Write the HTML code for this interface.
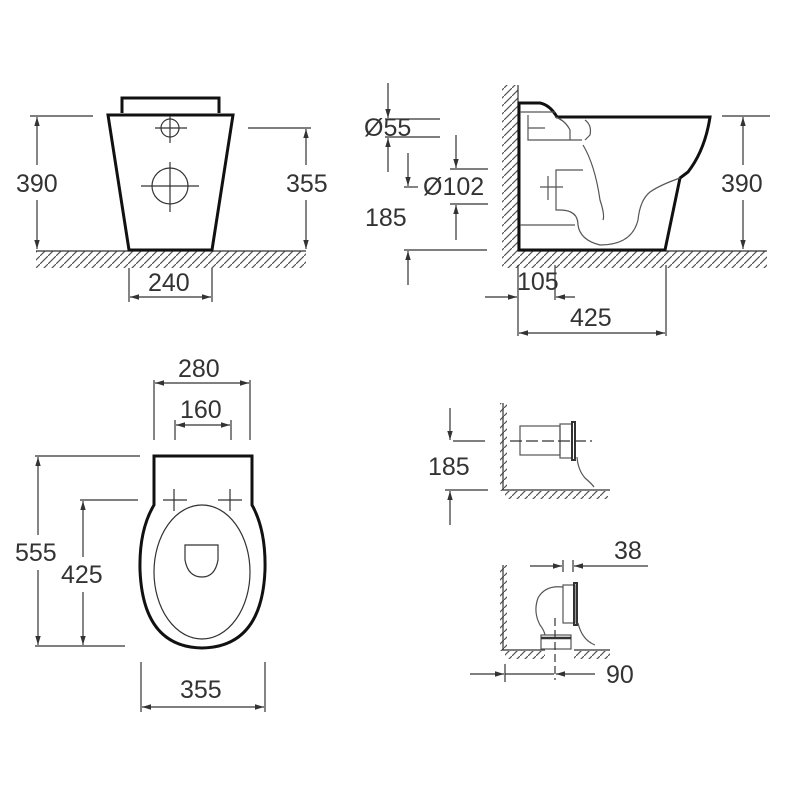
<!DOCTYPE html>
<html><head><meta charset="utf-8"><style>
html,body{margin:0;padding:0;background:#fff;}
svg{display:block;}
text{font-family:"Liberation Sans",sans-serif;font-size:25px;fill:#333;}
</style></head><body>
<svg width="800" height="800" viewBox="0 0 800 800" xmlns="http://www.w3.org/2000/svg">
<defs>
<pattern id="h" width="8" height="8" patternUnits="userSpaceOnUse">
<line x1="0" y1="8" x2="8" y2="0" stroke="#555" stroke-width="1.2"/>
</pattern>
<marker id="a" viewBox="0 0 10 10" refX="10" refY="5" markerWidth="9" markerHeight="9" orient="auto-start-reverse" markerUnits="userSpaceOnUse">
<path d="M0,2 L10,5 L0,8 Z" fill="#333"/>
</marker>
</defs>
<g stroke="#333" stroke-width="1.2" fill="none">

<!-- FRONT VIEW -->
<rect x="36" y="251" width="270" height="17" fill="url(#h)" stroke="none"/>
<line x1="36" y1="251" x2="306" y2="251"/>
<path d="M122,113 V98 H219 V113" stroke="#111" stroke-width="3"/>
<path d="M108,115 H233 L212,250 H129 Z" stroke="#111" stroke-width="3"/>
<circle cx="170" cy="128" r="9"/>
<line x1="155" y1="128" x2="187" y2="128"/><line x1="170" y1="116" x2="170" y2="143"/>
<circle cx="170" cy="186" r="18"/>
<line x1="141" y1="186" x2="199" y2="186"/><line x1="170" y1="162" x2="170" y2="212"/>
<line x1="30" y1="116" x2="93" y2="116"/>
<line x1="37" y1="165" x2="37" y2="117" marker-end="url(#a)"/>
<line x1="37" y1="200" x2="37" y2="249" marker-end="url(#a)"/>
<line x1="248" y1="128" x2="311" y2="128"/>
<line x1="306" y1="165" x2="306" y2="129" marker-end="url(#a)"/>
<line x1="306" y1="200" x2="306" y2="249" marker-end="url(#a)"/>
<line x1="129" y1="268" x2="129" y2="302"/><line x1="212" y1="268" x2="212" y2="302"/>
<line x1="130" y1="297" x2="211" y2="297" marker-start="url(#a)" marker-end="url(#a)"/>

<!-- SIDE VIEW -->
<rect x="502" y="85" width="16" height="166" fill="url(#h)" stroke="none"/>
<rect x="502" y="251" width="265" height="17" fill="url(#h)" stroke="none"/>
<line x1="518" y1="85" x2="518" y2="251"/>
<line x1="518" y1="251" x2="767" y2="251"/>
<path d="M519,250 V103 H540 Q550,105 557,117 H710 Q705,150 688,172 L680,178 L665,250 Z" stroke="#111" stroke-width="3"/>
<path d="M680,178 Q660,185 650,192 Q640,200 638,220 Q632,245 600,245 Q580,240 578,225 Q578,210 560,210 H556 V170 H583 M520,225 H575" stroke="#555"/>
<path d="M555,117 Q565,120 570,130 V140 M585,120 Q592,125 590,135 L585,140 M528,115 V140 H582 M583,145 Q595,165 600,200 Q605,215 603,220" stroke="#555"/>
<path d="M520,112 H555 M528,128 H545 M540,187 H563 M548,176 V200" stroke="#555"/>
<line x1="722" y1="116" x2="770" y2="116"/>
<line x1="743" y1="165" x2="743" y2="117" marker-end="url(#a)"/>
<line x1="743" y1="200" x2="743" y2="249" marker-end="url(#a)"/>
<line x1="385" y1="119" x2="440" y2="119"/><line x1="385" y1="137" x2="440" y2="137"/>
<line x1="388" y1="83" x2="388" y2="118" marker-end="url(#a)"/>
<line x1="388" y1="172" x2="388" y2="138" marker-end="url(#a)"/>
<line x1="450" y1="169" x2="488" y2="169"/><line x1="450" y1="204" x2="488" y2="204"/>
<line x1="456" y1="135" x2="456" y2="168" marker-end="url(#a)"/>
<line x1="456" y1="240" x2="456" y2="205" marker-end="url(#a)"/>
<line x1="404" y1="187" x2="418" y2="187"/>
<line x1="408" y1="153" x2="408" y2="186" marker-end="url(#a)"/>
<line x1="404" y1="250" x2="487" y2="250"/>
<line x1="408" y1="285" x2="408" y2="251" marker-end="url(#a)"/>
<line x1="485" y1="297" x2="517" y2="297" marker-end="url(#a)"/>
<line x1="555" y1="265" x2="555" y2="300"/>
<line x1="575" y1="297" x2="556" y2="297" marker-end="url(#a)"/>
<line x1="518" y1="265" x2="518" y2="336"/><line x1="666" y1="265" x2="666" y2="336"/>
<line x1="519" y1="333" x2="665" y2="333" marker-start="url(#a)" marker-end="url(#a)"/>

<!-- TOP VIEW -->
<path d="M154,456 H252 V505 Q266,530 265,570 Q262,647 202,648 Q143,647 140,570 Q139,530 154,505 Z" stroke="#111" stroke-width="3"/>
<ellipse cx="202" cy="572" rx="48" ry="67"/>
<path d="M185,545 H218 V560 Q215,577 202,577 Q188,577 185,560 Z"/>
<line x1="163" y1="500" x2="187" y2="500"/><line x1="174" y1="489" x2="174" y2="511"/>
<line x1="218" y1="500" x2="242" y2="500"/><line x1="230" y1="489" x2="230" y2="511"/>
<line x1="154" y1="380" x2="154" y2="440"/><line x1="250" y1="380" x2="250" y2="440"/>
<line x1="155" y1="383" x2="249" y2="383" marker-start="url(#a)" marker-end="url(#a)"/>
<line x1="175" y1="420" x2="175" y2="440"/><line x1="231" y1="420" x2="231" y2="440"/>
<line x1="176" y1="425" x2="230" y2="425" marker-start="url(#a)" marker-end="url(#a)"/>
<line x1="35" y1="456" x2="140" y2="456"/><line x1="35" y1="646" x2="125" y2="646"/>
<line x1="38" y1="535" x2="38" y2="457" marker-end="url(#a)"/>
<line x1="38" y1="570" x2="38" y2="645" marker-end="url(#a)"/>
<line x1="80" y1="500" x2="138" y2="500"/>
<line x1="83" y1="557" x2="83" y2="501" marker-end="url(#a)"/>
<line x1="83" y1="592" x2="83" y2="645" marker-end="url(#a)"/>
<line x1="141" y1="662" x2="141" y2="712"/><line x1="265" y1="662" x2="265" y2="712"/>
<line x1="142" y1="707" x2="264" y2="707" marker-start="url(#a)" marker-end="url(#a)"/>

<!-- DETAIL 1 -->
<rect x="500" y="403" width="7" height="88" fill="url(#h)" stroke="none"/>
<rect x="505" y="491" width="103" height="8" fill="url(#h)" stroke="none"/>
<path d="M503,403 V490 H610"/>
<rect x="520" y="426" width="40" height="29" stroke="#555"/>
<rect x="560" y="424" width="12" height="34" stroke="#555"/>
<rect x="572" y="422" width="3" height="38" stroke="#333" stroke-width="2"/>
<line x1="510" y1="441" x2="592" y2="441" stroke-dasharray="12,4"/>
<path d="M577,457 Q578,470 585,478 Q592,484 594,487" stroke="#555"/>
<line x1="453" y1="441" x2="485" y2="441"/>
<line x1="450" y1="408" x2="450" y2="440" marker-end="url(#a)"/>
<line x1="445" y1="490" x2="488" y2="490"/>
<line x1="450" y1="525" x2="450" y2="491" marker-end="url(#a)"/>

<!-- DETAIL 2 -->
<rect x="500" y="565" width="7" height="86" fill="url(#h)" stroke="none"/>
<rect x="505" y="651" width="40" height="8" fill="url(#h)" stroke="none"/>
<rect x="574" y="651" width="36" height="8" fill="url(#h)" stroke="none"/>
<path d="M503,565 V650 H545 M574,650 H610"/>
<rect x="563" y="585" width="12" height="38" stroke="#555"/>
<rect x="574" y="583" width="3" height="42" stroke-width="2"/>
<path d="M563,587 Q545,585 538,598 Q533,612 540,625 Q544,630 545,635" stroke="#555"/>
<rect x="541" y="635" width="30" height="14" stroke="#555"/>
<line x1="541" y1="638" x2="571" y2="638" stroke-width="2.5"/>
<line x1="555" y1="618" x2="555" y2="680" stroke-dasharray="8,4"/>
<path d="M578,623 Q582,640 595,645" stroke="#555"/>
<line x1="530" y1="566" x2="562" y2="566" marker-end="url(#a)"/>
<line x1="563" y1="560" x2="563" y2="572"/><line x1="573" y1="560" x2="573" y2="572"/>
<line x1="648" y1="566" x2="574" y2="566" marker-end="url(#a)"/>
<line x1="470" y1="674" x2="504" y2="674" marker-end="url(#a)"/>
<line x1="505" y1="664" x2="505" y2="682"/>
<line x1="505" y1="674" x2="554" y2="674"/>
<line x1="595" y1="674" x2="556" y2="674" marker-end="url(#a)"/>
</g>

<text x="16" y="192">390</text>
<text x="286" y="192">355</text>
<text x="148" y="291">240</text>
<text x="364" y="136">Ø55</text>
<text x="423" y="195">Ø102</text>
<text x="365" y="226">185</text>
<text x="517" y="290">105</text>
<text x="570" y="326">425</text>
<text x="721" y="192">390</text>
<text x="178" y="377">280</text>
<text x="180" y="418">160</text>
<text x="15" y="561">555</text>
<text x="61" y="583">425</text>
<text x="180" y="698">355</text>
<text x="428" y="475">185</text>
<text x="614" y="559">38</text>
<text x="606" y="683">90</text>
</svg>
</body></html>
